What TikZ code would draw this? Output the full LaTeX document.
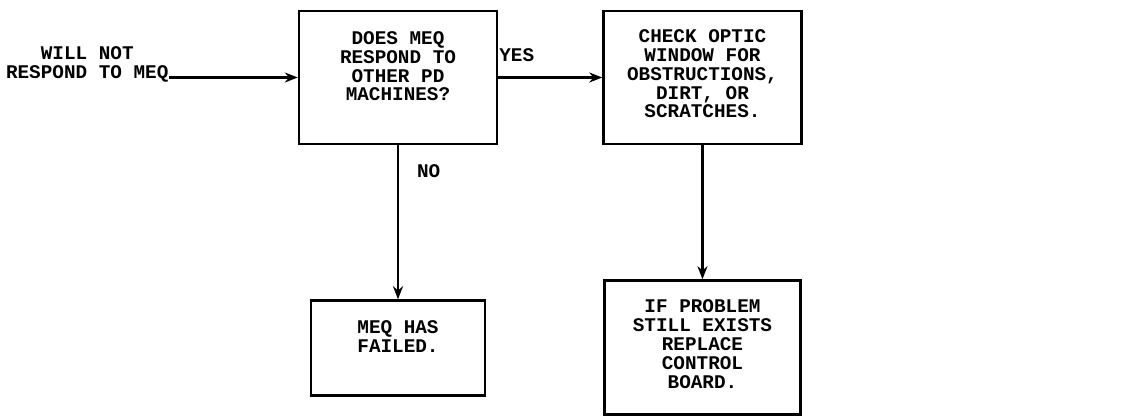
\documentclass[tikz,border=0pt]{standalone}
\usepackage{fontspec}
\setmonofont{Liberation Mono}
\usetikzlibrary{positioning, arrows.meta}
\tikzset{
  stepbox/.style = {rectangle, draw=black, line width=1.4pt, align=center,
                    minimum width=3.96cm, inner xsep=4pt, inner ysep=0pt,
                    font=\ttfamily\bfseries\fontsize{11}{10.8}\selectfont},
  lab/.style     = {font=\ttfamily\bfseries\fontsize{11}{10.8}\selectfont, align=center, inner sep=0pt},
  flow/.style    = {line width=1.3pt, -{Stealth[length=2.6mm, width=2mm]}},
}
\begin{document}
\begin{tikzpicture}

\useasboundingbox (0,0) rectangle (22.6,-8.32);

% Top row: question, then the check on the yes side
\node (ask) [stepbox, text height=1.8cm, text depth=0.86cm] at (7.96,-1.55) {DOES MEQ\\RESPOND TO\\OTHER PD\\MACHINES?};
\node (optic) [stepbox, text height=2.14cm, text depth=0.52cm, right=2.08cm of ask] {CHECK OPTIC\\WINDOW FOR\\OBSTRUCTIONS,\\DIRT, OR\\SCRATCHES.};

% Bottom row: outcomes
\node (fail) [stepbox, minimum width=3.48cm, text height=1.04cm, text depth=0.86cm, below=3.08cm of ask] {MEQ HAS\\FAILED.};
\node (board) [stepbox, minimum width=3.92cm, text height=2.16cm, text depth=0.52cm, below=2.68cm of optic] {IF PROBLEM\\STILL EXISTS\\REPLACE\\CONTROL\\BOARD.};

% Symptom that starts the chart
\node (symptom) [lab, left=2.58cm of ask, yshift=0.27cm] {WILL NOT\\RESPOND TO MEQ};

\draw [flow] (symptom.east |- ask.west) -- (ask.west);
\draw [flow] (ask.east) -- node[lab, pos=0, anchor=south west, yshift=0.3cm] {YES} (optic.west);
\draw [flow] (ask.south) -- node[lab, pos=0.17, anchor=west, xshift=0.36cm] {NO} (fail.north);
\draw [flow] (optic.south) -- (board.north);

\end{tikzpicture}
\end{document}
